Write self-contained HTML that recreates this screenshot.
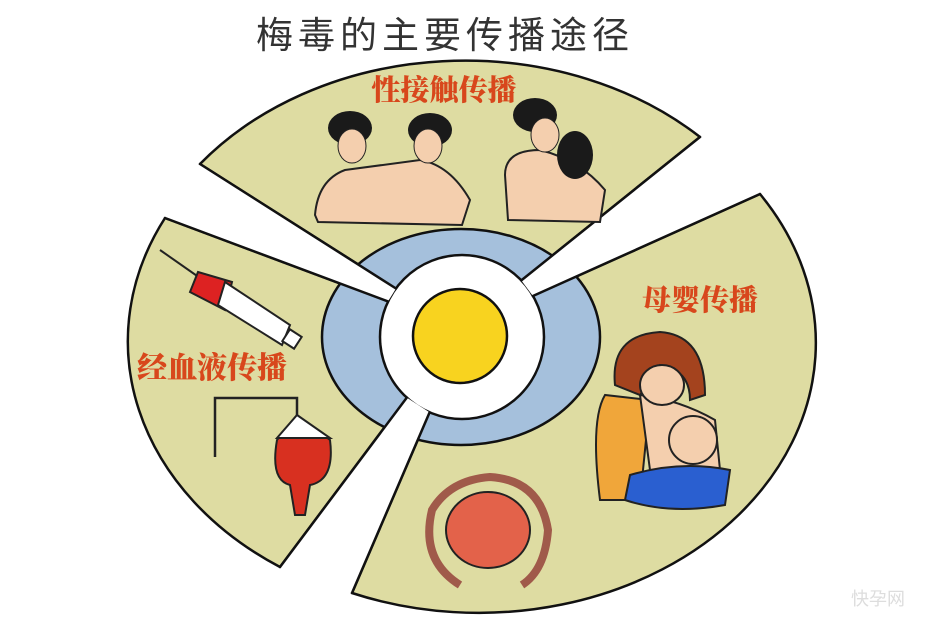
<!DOCTYPE html>
<html><head><meta charset="utf-8"><style>
html,body{margin:0;padding:0;background:#fff;width:935px;height:625px;overflow:hidden}
svg{display:block}
.t{font-family:"Liberation Sans","Noto Sans CJK SC",sans-serif}
.l{font-family:"Liberation Serif","Noto Serif CJK SC",serif;font-weight:900;fill:#d8471c}
</style></head><body>
<svg width="935" height="625" viewBox="0 0 935 625" xmlns="http://www.w3.org/2000/svg">
<rect width="935" height="625" fill="#fff"/>
<text x="445" y="48" class="t" font-size="37" fill="#333" text-anchor="middle" letter-spacing="5">梅毒的主要传播途径</text>
<g fill="#dedca2" stroke="#111" stroke-width="2.5" stroke-linejoin="round">
<path d="M200 164 A337 270 0 0 1 700 137 L521.3 280.4 A82 82 0 0 0 396 288.5 Z"/>
<path d="M165 218 A337 270 0 0 0 280 567 L406.8 397.6 A82 82 0 0 1 388 301.4 Z"/>
<path d="M760 194 A337 270 0 0 1 352 593 L429.6 412.4 A82 82 0 0 0 532.9 296 Z"/>
</g>
<ellipse cx="461" cy="337" rx="139" ry="108" fill="#a5c0dc" stroke="#111" stroke-width="2.5"/>
<circle cx="462" cy="337" r="82" fill="#fff" stroke="#111" stroke-width="2.5"/>
<g fill="#fff">
<polygon points="200,164 396,288.5 388,301.4 165,218"/>
<polygon points="700,137 521.3,280.4 532.9,296 760,194"/>
<polygon points="280,567 406.8,397.6 429.6,412.4 352,593"/>
</g>
<g stroke="#111" stroke-width="2.5" stroke-linecap="round">
<line x1="200" y1="164" x2="396" y2="288.5"/>
<line x1="165" y1="218" x2="388" y2="301.4"/>
<line x1="700" y1="137" x2="521.3" y2="280.4"/>
<line x1="760" y1="194" x2="532.9" y2="296"/>
<line x1="280" y1="567" x2="406.8" y2="397.6"/>
<line x1="352" y1="593" x2="429.6" y2="412.4"/>
</g>
<circle cx="460" cy="336" r="47" fill="#f8d31f" stroke="#111" stroke-width="2.5"/>
<text x="444" y="100" class="l" font-size="29" text-anchor="middle">性接触传播</text>
<text x="700" y="310" class="l" font-size="29" text-anchor="middle">母婴传播</text>
<text x="212" y="378" class="l" font-size="30" text-anchor="middle">经血液传播</text>
<!-- couples -->
<g stroke="#222" stroke-width="2">
<path d="M315 215 Q318 180 345 170 L420 160 Q450 165 470 200 L462 225 L318 222 Z" fill="#f4cfae"/>
<path d="M505 175 Q505 150 540 150 Q580 160 605 190 L600 222 L508 220 Z" fill="#f4cfae"/>
</g>
<ellipse cx="350" cy="128" rx="22" ry="17" fill="#1a1a1a"/>
<ellipse cx="352" cy="146" rx="14" ry="17" fill="#f4cfae" stroke="#222"/>
<ellipse cx="430" cy="130" rx="22" ry="17" fill="#1a1a1a"/>
<ellipse cx="428" cy="146" rx="14" ry="17" fill="#f4cfae" stroke="#222"/>
<ellipse cx="535" cy="115" rx="22" ry="17" fill="#1a1a1a"/>
<ellipse cx="545" cy="135" rx="14" ry="17" fill="#f4cfae" stroke="#222"/>
<ellipse cx="575" cy="155" rx="18" ry="24" fill="#1a1a1a"/>
<!-- syringe -->
<g stroke="#222" stroke-width="2">
<line x1="160" y1="250" x2="200" y2="278"/>
<polygon points="198,272 232,282 225,310 190,292" fill="#d22"/>
<polygon points="225,282 290,325 282,345 218,305" fill="#fff"/>
<rect x="285" y="332" width="14" height="14" fill="#fff" transform="rotate(33 292 339)"/>
</g>
<!-- IV -->
<g stroke="#222" stroke-width="2.5" fill="none">
<path d="M215 457 V398 H297 V415"/>
</g>
<path d="M297 415 L330 440 Q335 480 310 485 L305 515 H295 L290 485 Q270 480 277 440 Z" fill="#d83020" stroke="#222" stroke-width="2"/>
<path d="M297 415 L330 438 H277 Z" fill="#fff" stroke="#222" stroke-width="2"/>
<!-- mother -->
<g stroke="#222" stroke-width="2">
<path d="M605 395 Q590 420 600 500 L640 500 L650 400 Z" fill="#f0a63a"/>
<path d="M640 395 Q680 400 715 420 L720 470 L650 470 Z" fill="#f4cfae"/>
<path d="M630 475 Q680 460 730 470 L725 505 Q670 515 625 500 Z" fill="#2a5fd0"/>
<circle cx="693" cy="440" r="24" fill="#f4cfae"/>
<path d="M615 385 Q610 335 660 332 Q705 335 705 395 L690 400 Q690 370 660 365 L640 395 Z" fill="#a4431e"/>
<ellipse cx="662" cy="385" rx="22" ry="20" fill="#f4cfae"/>
</g>
<!-- fetus -->
<g stroke="#222" stroke-width="2">
<path d="M460 585 Q420 560 432 510 Q450 480 490 477 Q540 480 548 530 Q545 570 522 585" fill="none" stroke="#a05a4a" stroke-width="8"/>
<ellipse cx="488" cy="530" rx="42" ry="38" fill="#e3624a"/>
</g>
<text x="878" y="605" class="t" font-size="18" fill="#ddd" text-anchor="middle">快孕网</text>
</svg>
</body></html>
